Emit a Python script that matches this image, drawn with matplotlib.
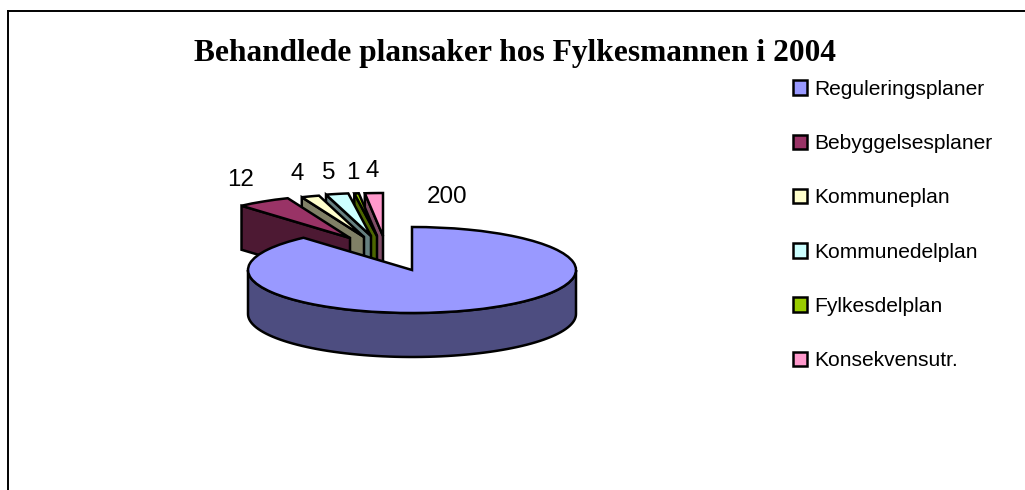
import numpy as np
import matplotlib

matplotlib.use("Agg")
import matplotlib.pyplot as plt
from matplotlib.lines import Line2D
from matplotlib.patches import Patch

W, H = 1025, 490
DPI = 100

categories = [
    "Reguleringsplaner",
    "Bebyggelsesplaner",
    "Kommuneplan",
    "Kommunedelplan",
    "Fylkesdelplan",
    "Konsekvensutr.",
]
values = [200, 12, 4, 5, 1, 4]
value_labels = ["200", "12", "4", "5", "1", "4"]

top_colors = ["#9999FF", "#993366", "#FFFFCC", "#CCFFFF", "#99CC00", "#FF99CC"]
wall_colors = ["#4D4D80", "#4D1933", "#808066", "#668080", "#4D6600", "#804D66"]

# pie centre and radii, pixels from top left
CX, CY = 412, 270
RX, RY = 164, 43
DEPTH = 44

# pull of each slice away from the centre, pixels
shift_x = [0, -62, -48, -41, -35, -29]
shift_y = [0, 32, 33, 34, 34, 34]
# label centres, pixels
label_x = [447, 241, 297, 329, 353, 372]
label_y = [197, 180, 174, 173, 173, 171]

plt.rcParams["font.family"] = ["Liberation Sans", "DejaVu Sans"]

fig = plt.figure(figsize=(W / DPI, H / DPI), dpi=DPI)
ax = fig.add_axes([0, 0, 1, 1])
wedges, _ = ax.pie(values, startangle=90, counterclock=False, colors=top_colors)
ax.set_aspect("auto")
ax.set_xlim(-CX / RX, (W - CX) / RX)
ax.set_ylim((CY - H) / RY, CY / RY)
ax.axis("off")

d = DEPTH / RY


def arc(theta1, theta2, n=80):
    th = np.radians(np.linspace(theta1, theta2, n))
    return np.cos(th), np.sin(th)


# small slices back to front, big one last
for i in [5, 4, 3, 2, 1, 0]:
    w = wedges[i]
    sx, sy = shift_x[i] / RX, shift_y[i] / RY
    w.set_center((sx, sy))
    w.set_edgecolor("black")
    w.set_linewidth(1.8)
    w.set_joinstyle("miter")
    w.set_zorder(10 + 2 * (5 - i) + 1)
    if i == 0:
        # outer rim on the front side
        xa, ya = arc(180, 360)
        xs = np.r_[xa, xa[::-1]]
        ys = np.r_[ya, ya[::-1] - d]
    else:
        # cut face on the left radial edge
        xe, ye = arc(w.theta2, w.theta2, 1)
        xs = np.r_[0, xe, xe, 0] + sx
        ys = np.r_[0, ye, ye - d, -d] + sy
    ax.fill(xs, ys, facecolor=wall_colors[i], edgecolor="black", lw=1.8,
            zorder=10 + 2 * (5 - i), joinstyle="miter")

# chart frame, open to right and bottom
fig.add_artist(Line2D([7.5 / W, 7.5 / W], [0, 1 - 11.5 / H], color="black", lw=1.4))
fig.add_artist(Line2D([7.5 / W, 1], [1 - 11.5 / H, 1 - 11.5 / H], color="black", lw=1.4))

fig.text(515 / W, 1 - 53 / H, "Behandlede plansaker hos Fylkesmannen i 2004",
         family=["Liberation Serif"], weight="bold", fontsize=22.6,
         ha="center", va="center")

for i, lab in enumerate(value_labels):
    fig.text(label_x[i] / W, 1 - label_y[i] / H, lab, fontsize=17.4,
             ha="center", va="center")

handles = [Patch(facecolor=c, edgecolor="black", lw=1.8) for c in top_colors]
fig.legend(handles, categories, loc="upper left",
           bbox_to_anchor=(793 / W, 1 - 80 / H), frameon=False, fontsize=15.1,
           labelspacing=1.68, handlelength=0.68, handleheight=0.68,
           handletextpad=0.35, borderpad=0, borderaxespad=0)

fig.savefig("out.png", dpi=DPI)
